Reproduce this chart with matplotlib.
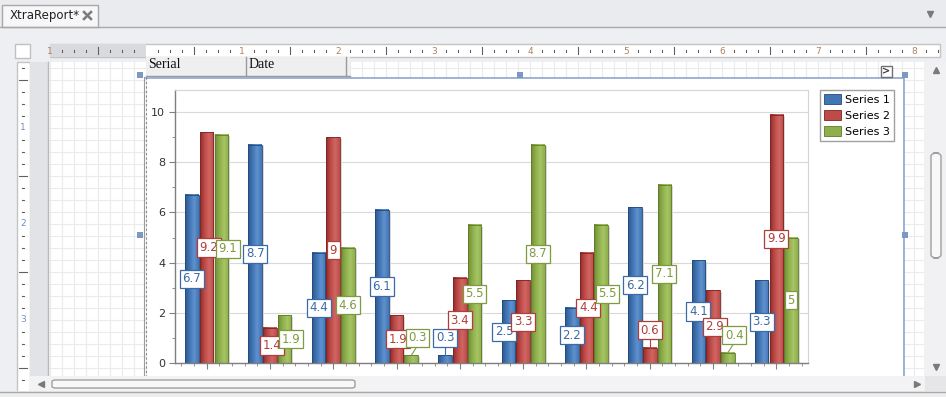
import numpy as np
import matplotlib.pyplot as plt
from matplotlib.patches import Rectangle, FancyBboxPatch, Patch
from matplotlib.lines import Line2D
from matplotlib.colors import LinearSegmentedColormap
from matplotlib.ticker import MultipleLocator

# chart data
categories = ['A', 'B', 'C', 'D', 'E', 'F', 'G', 'H', 'I', 'J']
series_names = ['Series 1', 'Series 2', 'Series 3']
series1 = [6.7, 8.7, 4.4, 6.1, 0.3, 2.5, 2.2, 6.2, 4.1, 3.3]
series2 = [9.2, 1.4, 9.0, 1.9, 3.4, 3.3, 4.4, 0.6, 2.9, 9.9]
series3 = [9.1, 1.9, 4.6, 0.3, 5.5, 8.7, 5.5, 7.1, 0.4, 5.0]
ruler_h_labels = ['1', '2', '3', '4', '5', '6', '7', '8']
ruler_v_labels = ['1', '2', '3']

W, H = 946, 397
fig = plt.figure(figsize=(W / 100, H / 100), dpi=100)
fig.patch.set_facecolor('#EEEFF2')


def rect(x, y, w, h, z=-5, **kw):
    r = Rectangle((x / W, 1 - (y + h) / H), w / W, h / H,
                  transform=fig.transFigure, zorder=z, **kw)
    fig.add_artist(r)
    return r


def line(x0, y0, x1, y1, z=-4, **kw):
    fig.add_artist(Line2D([x0 / W, x1 / W], [1 - y0 / H, 1 - y1 / H],
                          transform=fig.transFigure, zorder=z, **kw))


def text(x, y, s, z=-3, **kw):
    fig.text(x / W, 1 - y / H, s, zorder=z, **kw)


def marker(x, y, m, ms, z):
    fig.add_artist(Line2D([x / W], [1 - y / H], marker=m, ms=ms, color='#7A7A7A',
                          transform=fig.transFigure, zorder=z))


# --- designer chrome ---
rect(0, 0, W, 27, fc='#EAEBEF', lw=0)
line(0, 26.5, W, 26.5, color='#A8A8A8', lw=1)
rect(2, 5, 96, 22, fc='#F7F7F9', ec='#A8A8A8', lw=1, z=-4.5)
text(10, 16, 'XtraReport*', fontsize=8.5, color='#222222', va='center')
line(84, 12, 91, 19, color='#7A7A7A', lw=1.8, z=-3)
line(84, 19, 91, 12, color='#7A7A7A', lw=1.8, z=-3)
marker(930, 14, 'v', 5, -3)

# horizontal ruler
rect(15, 44, 15, 14, fc='white', ec='#C0C0C0', lw=1)
rect(50, 44, 890, 13, fc='white', ec='#C4C4C4', lw=1)
rect(50, 44, 96, 13, fc='#D9DADE', lw=0, z=-4.8)
for x in range(50, 940, 12):
    k = (x - 146) % 96
    if k == 0:
        continue
    if k == 48:
        line(x, 47, x, 54, color='#606060', lw=0.8)
    else:
        line(x, 50, x, 51.5, color='#606060', lw=0.8)
text(50, 51, '1', fontsize=6.5, color='#B08060', ha='center', va='center')
for i, lab in enumerate(ruler_h_labels):
    text(242 + 96 * i, 51, lab, fontsize=6.5, color='#B08060', ha='center', va='center')

# vertical ruler
rect(17, 62, 13, 330, fc='white', ec='#C4C4C4', lw=1)
for y in range(68, 390, 12):
    k = (y - 32) % 96
    if k == 0:
        continue
    if k == 48:
        line(19, y, 27, y, color='#606060', lw=0.8)
    else:
        line(22, y, 24, y, color='#606060', lw=0.8)
for i, lab in enumerate(ruler_v_labels):
    text(23, 128 + 96 * i, lab, fontsize=6.5, color='#7090C0', ha='center', va='center')

# report surface with snap grid
rect(30, 62, 18, 314, fc='#E2E3E6', lw=0)
rect(48, 62, 876, 314, fc='white', lw=0)
for x in range(50, 924, 12):
    line(x, 62, x, 376, color='#EBEBEB', lw=0.8, z=-4.6)
for y in range(68, 376, 12):
    line(48, y, 924, y, color='#EBEBEB', lw=0.8, z=-4.6)
line(48, 62, 48, 376, color='#B8B8B8', lw=1, z=-4.5)

# table header
rect(146, 57, 204, 19, fc='#EFEFEF', lw=0, z=-4.4)
line(146, 75.5, 350, 75.5, color='#9A9A9A', lw=1)
line(246, 57, 246, 75, color='#9A9A9A', lw=1)
line(346, 57, 346, 75, color='#9A9A9A', lw=1)
text(148, 64, 'Serial', fontsize=10, family='Liberation Serif', color='#101010', va='center')
text(249, 64, 'Date', fontsize=10, family='Liberation Serif', color='#101010', va='center')

# chart control frame
rect(147, 78, 756, 298, fc='white', lw=0, z=-2.5)
line(146, 77.5, 903, 77.5, color='#8DA6CE', lw=1.2, z=-2)
line(903.5, 77, 903.5, 376, color='#8DA6CE', lw=1.2, z=-2)
line(143.5, 77, 143.5, 376, color='#9A9A9A', lw=0.8, z=-2)
line(146, 77, 146, 376, color='#8A8A8A', lw=0.8, ls=(0, (2, 2)), z=-2)
rect(881, 66, 11, 11, fc='white', ec='#707070', lw=1, z=-2)
text(886.5, 71.5, '>', fontsize=7, color='#404040', ha='center', va='center', weight='bold', z=-1.9)
for hx, hy in [(137, 72), (517, 72), (902, 72), (137, 232), (902, 232)]:
    rect(hx, hy, 6, 6, fc='#7D98C2', lw=0, z=6)

# scrollbars
rect(924, 62, 22, 314, fc='#F1F1F3', lw=0, z=-2)
fig.add_artist(FancyBboxPatch((931 / W, 1 - 258 / H), 10 / W, 105 / H,
                              boxstyle='round,pad=0,rounding_size=0.008',
                              transform=fig.transFigure, fc='#F8F8F8', ec='#A0A0A0', lw=1, zorder=-1.9))
marker(936, 70, '^', 4, -1.8)
marker(936, 367, 'v', 4, -1.8)
rect(30, 376, 916, 15, fc='#F3F3F5', lw=0, z=5)
fig.add_artist(FancyBboxPatch((52 / W, 1 - 388 / H), 303 / W, 8 / H,
                              boxstyle='round,pad=0,rounding_size=0.004',
                              transform=fig.transFigure, fc='#F8F8F8', ec='#A0A0A0', lw=1, zorder=5.1))
marker(41, 384, '<', 4, 5.2)
marker(917, 384, '>', 4, 5.2)
rect(925, 376, 21, 15, fc='#E6E6E8', lw=0, z=5.1)
rect(0, 391, W, 6, fc='#EDEDED', lw=0, z=5.1)
line(0, 391.5, W, 391.5, color='#A8A8A8', lw=1, z=5.2)

# --- the chart ---
ax_l, ax_r, ax_t, ax_b = 175, 808, 90, 363
ax = fig.add_axes([ax_l / W, 1 - ax_b / H, (ax_r - ax_l) / W, (ax_b - ax_t) / H])
ax.set_facecolor('white')

grads = [
    ('#2A5890', '#4275B3', '#5E91CE'),
    ('#8F2C2A', '#BD4B48', '#D06663'),
    ('#6E8D33', '#8EAF4C', '#A6C566'),
]
label_colors = ['#3A6AA8', '#B23C3A', '#7E9B3F']
edge_colors = ['#24497A', '#7D2523', '#5F7A2B']
data = [series1, series2, series3]

x = np.arange(len(categories))
bw = 0.215
offs = [-0.232, 0, 0.232]
grad = np.linspace(0, 1, 64).reshape(1, -1)


def label_y(v):
    return v + 0.7 if v < 1.2 else v / 2


for j, vals in enumerate(data):
    cmap = LinearSegmentedColormap.from_list('g%d' % j, [grads[j][0], grads[j][1], grads[j][2], grads[j][1]])
    for i, v in enumerate(vals):
        x0 = x[i] + offs[j] - bw / 2
        ax.add_patch(Rectangle((x0 + bw, 0), 0.03, v - 0.06, fc='#D8D8D8', lw=0, zorder=1.5))
        ax.imshow(grad, cmap=cmap, extent=[x0, x0 + bw, 0, v], aspect='auto',
                  interpolation='bilinear', zorder=2)
        ax.add_patch(Rectangle((x0, 0), bw, v, fill=False, ec=edge_colors[j], lw=0.6, zorder=3))

# value labels, nudged sideways where neighbours collide
for i in range(len(categories)):
    ys = [label_y(d[i]) for d in data]
    shift = [0.0, 0.0, 0.0]
    if abs(ys[2] - ys[1]) < 0.55:
        shift[2] = 0.1
        shift[1] = 0.03
    elif abs(ys[0] - ys[1]) < 0.55:
        shift[0] = -0.07
    for j, d in enumerate(data):
        v = d[i]
        c = label_colors[j]
        xc = x[i] + offs[j]
        xl = xc + shift[j]
        yl = ys[j]
        if v < 1.2:
            ax.plot([xc, xl], [v, yl - 0.3], color=c, lw=0.8, zorder=3.5)
        ax.text(xl, yl, f'{v:g}', fontsize=8.5, color=c, ha='center', va='center', zorder=4,
                bbox=dict(boxstyle='square,pad=0.22', fc='white', ec=c, lw=0.9))

ax.set_xlim(-0.5, len(categories) - 0.5)
ax.set_ylim(0, 10.88)
ax.set_xticks(x)
ax.set_xticklabels(categories, fontsize=8, color='#333333')
ax.set_yticks(np.arange(0, 11, 2))
ax.yaxis.set_minor_locator(MultipleLocator(1))
ax.xaxis.set_minor_locator(MultipleLocator(0.2))
ax.tick_params(axis='both', which='major', length=4, color='#808080', labelsize=8,
               labelcolor='#333333', pad=3)
ax.tick_params(axis='x', which='major', pad=7)
ax.tick_params(axis='both', which='minor', length=2, color='#808080')
ax.grid(axis='y', which='major', color='#D9D9D9', lw=0.8, zorder=0)
ax.set_axisbelow(True)
for s in ['left', 'bottom']:
    ax.spines[s].set_color('#7F7F7F')
    ax.spines[s].set_linewidth(1)
for s in ['top', 'right']:
    ax.spines[s].set_color('#D4D4D4')
    ax.spines[s].set_linewidth(0.8)

handles = [Patch(fc=g[1], ec=e, lw=0.6) for g, e in zip(grads, edge_colors)]
fig.legend(handles, series_names, loc='upper left', bbox_to_anchor=(820 / W, 1 - 90 / H),
           frameon=True, fancybox=False, edgecolor='#A0A0A0', framealpha=1,
           fontsize=8, handlelength=1.5, handleheight=1.05, borderpad=0.35,
           labelspacing=0.45, handletextpad=0.4, borderaxespad=0)

fig.savefig('out.png', dpi=100, facecolor=fig.get_facecolor())
